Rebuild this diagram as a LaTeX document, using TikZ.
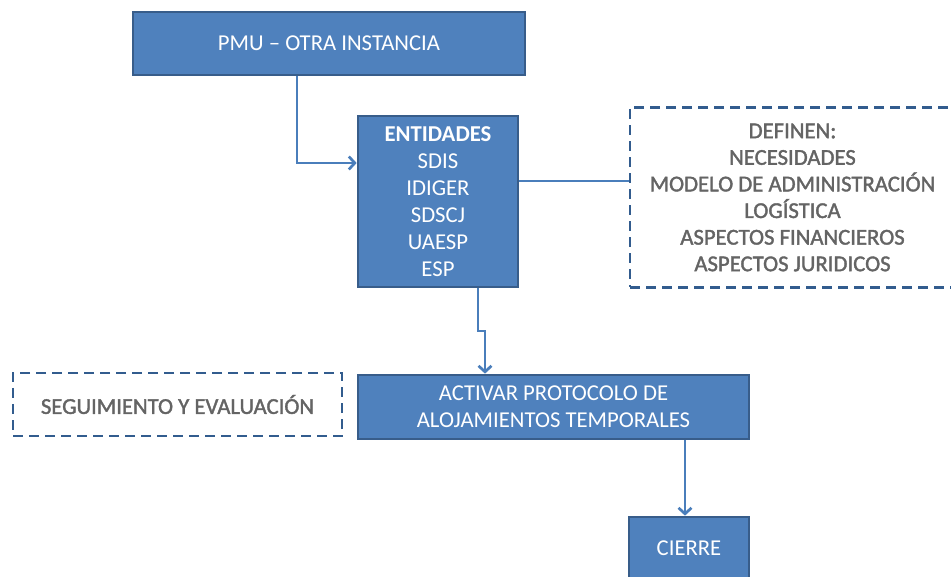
\documentclass[tikz,border=0pt]{standalone}
\usepackage{fontspec}
\setmainfont{Carlito}
\newfontfamily\heavyfont[FakeBold=1.6]{Carlito}
\usetikzlibrary{arrows.meta}
\definecolor{boxfill}{RGB}{79,129,189}
\definecolor{boxline}{RGB}{56,93,138}
\definecolor{conn}{RGB}{74,126,187}
\definecolor{dashc}{RGB}{50,92,142}
\definecolor{greytext}{RGB}{100,100,100}
\tikzset{
  bluebox/.style={draw=boxline, fill=boxfill, line width=2.7pt, text=white, inner sep=0pt, align=center,
    font=\fontsize{22.7}{27}\selectfont},
  dashbox/.style={draw=dashc, line width=2.7pt, dash pattern=on 10pt off 6pt, text=greytext, inner sep=0pt, align=center,
    font=\heavyfont\fontsize{22.7}{26.6}\selectfont},
  conline/.style={draw=conn, line width=2.7pt},
  arr/.style={conline, -{Straight Barb[length=6pt,width=13pt]}}
}
\begin{document}
\begin{tikzpicture}[x=1pt,y=-1pt]
\useasboundingbox (0,0) rectangle (951,577);
\begin{scope}
\clip (0,0) rectangle (951,577);
\node[bluebox, minimum width=392pt, minimum height=63pt] (pmu) at (329,43.5) {PMU – OTRA INSTANCIA};
\node[bluebox, minimum width=160pt, minimum height=171pt] (ent) at (438,201.5)
  {\textbf{ENTIDADES}\\SDIS\\IDIGER\\SDSCJ\\UAESP\\ESP};
\node[dashbox, minimum width=325pt, minimum height=180pt] (def) at (792.5,197.5)
  {DEFINEN:\\NECESIDADES\\MODELO DE ADMINISTRACIÓN\\LOGÍSTICA\\ASPECTOS FINANCIEROS\\ASPECTOS JURIDICOS};
\node[dashbox, minimum width=329pt, minimum height=63pt] (seg) at (177.5,404.5) {SEGUIMIENTO Y EVALUACIÓN};
\node[bluebox, minimum width=391pt, minimum height=64pt] (act) at (553.5,407)
  {ACTIVAR PROTOCOLO DE\\ALOJAMIENTOS TEMPORALES};
\node[bluebox, minimum width=120pt, minimum height=63pt] (cie) at (689,548.5) {CIERRE};

\coordinate (j1) at (297,163);
\draw[arr] (pmu.south -| j1) -- (j1) -- (ent.west |- j1);
\coordinate (j2) at (0,181);
\draw[conline] (ent.east |- j2) -- (def.west |- j2);
\coordinate (j3) at (478,331);
\coordinate (j4) at (485,331);
\draw[arr] (ent.south -| j3) -- (j3) -- (j4) -- (act.north -| j4);
\coordinate (j5) at (685,0);
\draw[arr] (act.south -| j5) -- (cie.north -| j5);
\end{scope}
\end{tikzpicture}
\end{document}
